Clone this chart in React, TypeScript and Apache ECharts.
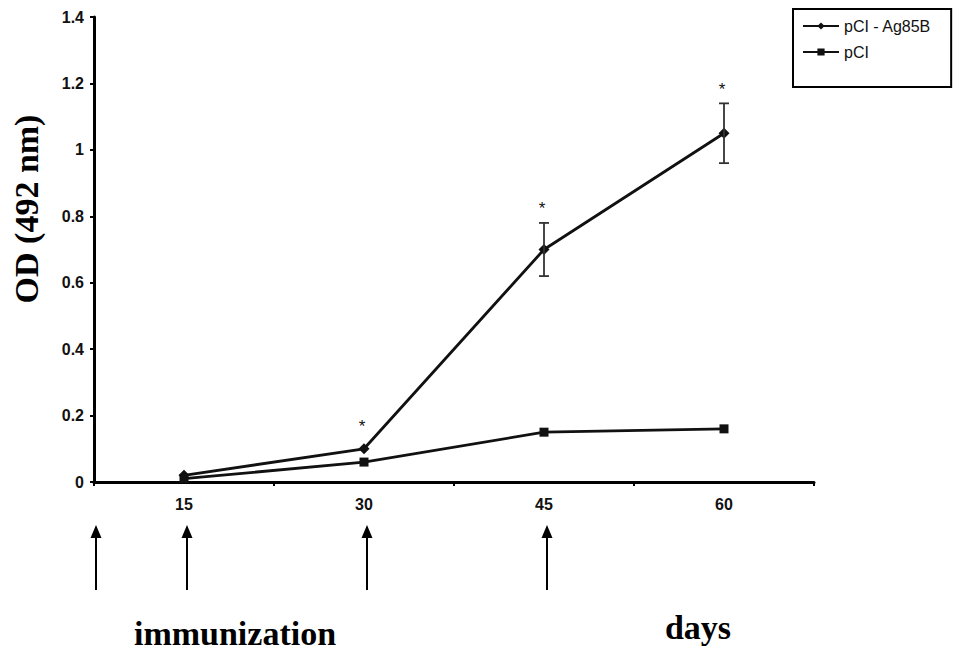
import { useEffect, useRef } from "react";
import * as echarts from "echarts";

const days = ["15", "30", "45", "60"];
const ag85bValues = [0.02, 0.1, 0.7, 1.05];
const ag85bErrors = [0, 0, 0.08, 0.09];
const pciValues = [0.01, 0.06, 0.15, 0.16];
const significant = [false, true, true, true];
const immunizationDays = ["0", "15", "30", "45"];
const seriesNames = ["pCI - Ag85B", "pCI"];
const yAxisTitle = "OD (492 nm)";
const xAxisTitle = "days";
const arrowTitle = "immunization";

const SANS = "'Liberation Sans', Arial, sans-serif";
const SERIF = "'Liberation Serif', 'Times New Roman', serif";
const GRID_LEFT = 94;

export default function App() {
  const ref = useRef<HTMLDivElement>(null);
  useEffect(() => {
    document.body.style.margin = "0";
    if (!ref.current) return;
    const chart = echarts.init(ref.current, null, { renderer: "svg" });
    const option: any = {
      animation: false,
      backgroundColor: "#ffffff",
      grid: { left: GRID_LEFT, right: 146, top: 17, bottom: 170, containLabel: false },
      legend: {
        data: seriesNames,
        orient: "vertical",
        left: 793,
        top: 9,
        padding: [9, 20, 27, 9],
        itemGap: 10,
        itemWidth: 36,
        itemHeight: 9,
        borderColor: "#000",
        borderWidth: 2,
        textStyle: { fontFamily: SANS, fontSize: 16, color: "#111" },
      },
      xAxis: {
        type: "category",
        data: days,
        boundaryGap: true,
        axisLine: { lineStyle: { color: "#000", width: 3 } },
        axisTick: { show: true, length: 4, lineStyle: { color: "#000", width: 2 } },
        axisLabel: {
          fontFamily: SANS,
          fontWeight: "bold",
          fontSize: 16,
          color: "#111",
          margin: 14,
        },
        splitLine: { show: false },
      },
      yAxis: {
        type: "value",
        min: 0,
        max: 1.4,
        interval: 0.2,
        axisLine: { show: true, lineStyle: { color: "#000", width: 3 } },
        axisTick: { show: true, length: 4, lineStyle: { color: "#000", width: 2 } },
        axisLabel: {
          fontFamily: SANS,
          fontWeight: "bold",
          fontSize: 16,
          color: "#111",
          margin: 10,
        },
        splitLine: { show: false },
      },
      series: [
        {
          name: seriesNames[0],
          type: "line",
          data: ag85bValues,
          symbol: "diamond",
          symbolSize: 11,
          lineStyle: { color: "#111", width: 2.8 },
          itemStyle: { color: "#111" },
          z: 3,
        },
        {
          name: seriesNames[1],
          type: "line",
          data: pciValues,
          symbol: "rect",
          symbolSize: 9,
          lineStyle: { color: "#111", width: 2.8 },
          itemStyle: { color: "#111" },
          z: 3,
        },
        {
          type: "custom",
          name: "errors",
          data: days.map((_, i) => [i, ag85bValues[i], ag85bErrors[i], significant[i] ? 1 : 0]),
          z: 4,
          renderItem: (params: any, api: any) => {
            const i = api.value(0);
            const v = api.value(1);
            const e = api.value(2);
            const sig = api.value(3);
            const p = api.coord([i, v]);
            const top = api.coord([i, v + e]);
            const bot = api.coord([i, v - e]);
            const children: any[] = [];
            const st = { stroke: "#333", lineWidth: 1.8 };
            if (e > 0) {
              children.push({ type: "line", shape: { x1: p[0], y1: top[1], x2: p[0], y2: bot[1] }, style: st });
              children.push({ type: "line", shape: { x1: p[0] - 5, y1: top[1], x2: p[0] + 5, y2: top[1] }, style: st });
              children.push({ type: "line", shape: { x1: p[0] - 5, y1: bot[1], x2: p[0] + 5, y2: bot[1] }, style: st });
            }
            if (sig) {
              const sy = Math.min(top[1] - 17, p[1] - 25);
              children.push({
                type: "text",
                style: {
                  text: "*",
                  x: p[0] - 2,
                  y: sy + 3,
                  textAlign: "center",
                  textVerticalAlign: "middle",
                  fontFamily: SANS,
                  fontSize: 17,
                  fill: "#111",
                },
              });
            }
            return { type: "group", children };
          },
        },
      ],
    };
    chart.setOption(option);

    const arrows: any[] = [];
    immunizationDays.forEach((d) => {
      let x: number;
      if (days.indexOf(d) >= 0) {
        x = (chart.convertToPixel({ xAxisIndex: 0 }, d) as number) + 3;
      } else {
        x = GRID_LEFT + 2;
      }
      arrows.push({
        type: "line",
        shape: { x1: x, y1: 590, x2: x, y2: 534 },
        style: { stroke: "#000", lineWidth: 2 },
      });
      arrows.push({
        type: "polygon",
        shape: { points: [[x, 525], [x - 5.5, 538], [x + 5.5, 538]] },
        style: { fill: "#000" },
      });
    });

    chart.setOption({
      graphic: [
        ...arrows,
        {
          type: "text",
          x: 26,
          y: 209,
          rotation: Math.PI / 2,
          style: {
            text: yAxisTitle,
            textAlign: "center",
            textVerticalAlign: "middle",
            fontFamily: SERIF,
            fontWeight: "bold",
            fontSize: 34,
            fill: "#000",
          },
        },
        {
          type: "text",
          x: 698,
          y: 627,
          style: {
            text: xAxisTitle,
            textAlign: "center",
            textVerticalAlign: "middle",
            fontFamily: SERIF,
            fontWeight: "bold",
            fontSize: 34,
            fill: "#000",
          },
        },
        {
          type: "text",
          x: 235,
          y: 633,
          style: {
            text: arrowTitle,
            textAlign: "center",
            textVerticalAlign: "middle",
            fontFamily: SERIF,
            fontWeight: "bold",
            fontSize: 34,
            fill: "#000",
          },
        },
      ],
    });

    return () => chart.dispose();
  }, []);
  return <div ref={ref} style={{ width: 960, height: 652 }} />;
}
